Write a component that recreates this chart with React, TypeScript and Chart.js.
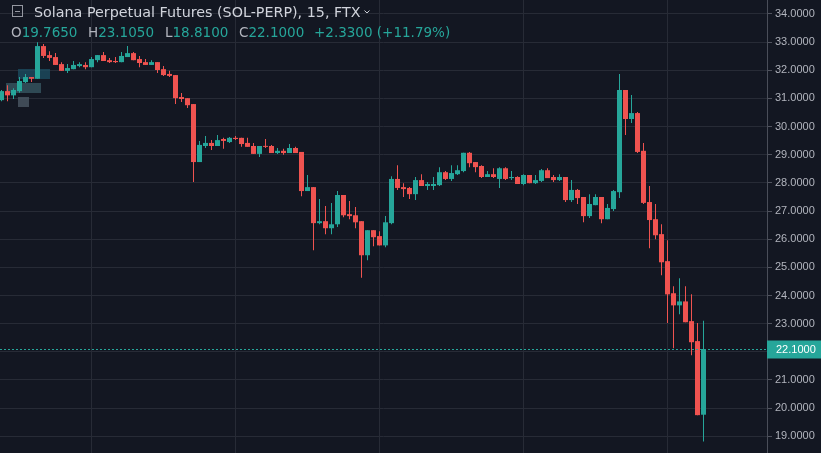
import React, { useEffect, useRef } from 'react';
import { Chart, registerables } from 'chart.js';

Chart.register(...registerables);

// OHLC values, one entry per 15-minute candle (oldest first)
const opens = [
  30.94, 31.26, 31.11, 31.26, 31.58, 31.76, 31.70, 32.86, 32.54, 32.47,
  32.22, 31.98, 32.04, 32.15, 32.19, 32.11, 32.36, 32.54, 32.36, 32.33,
  32.29, 32.47, 32.61, 32.40, 32.29, 32.19, 32.29, 32.04, 31.87, 31.83,
  31.05, 31.01, 30.80, 28.74, 29.31, 29.42, 29.31, 29.56, 29.45, 29.60,
  29.60, 29.42, 29.31, 29.03, 29.31, 29.31, 29.06, 29.14, 29.06, 29.24,
  29.10, 27.71, 27.85, 26.57, 26.64, 26.39, 26.53, 27.57, 26.89, 26.85,
  26.64, 25.43, 26.32, 26.11, 25.78, 26.57, 28.14, 27.85, 27.82, 27.60,
  28.10, 27.89, 27.89, 27.92, 28.38, 28.14, 28.31, 28.42, 29.07, 28.74,
  28.60, 28.21, 28.31, 28.14, 28.52, 28.17, 28.21, 27.96, 28.28, 27.99,
  28.07, 28.45, 28.21, 28.10, 28.21, 27.39, 27.75, 27.50, 26.82, 27.21,
  27.50, 26.71, 27.07, 27.67, 31.30, 30.27, 30.48, 29.14, 27.32, 26.71,
  26.18, 25.22, 24.08, 23.65, 23.79, 23.09, 22.38, 19.765,
];
const highs = [
  31.30, 31.47, 31.36, 31.76, 31.87, 31.76, 33.00, 32.93, 32.68, 32.61,
  32.29, 32.22, 32.33, 32.29, 32.29, 32.47, 32.54, 32.65, 32.44, 32.47,
  32.65, 32.86, 32.65, 32.51, 32.40, 32.36, 32.29, 32.15, 31.98, 31.83,
  31.19, 31.01, 30.80, 29.49, 29.67, 29.52, 29.70, 29.60, 29.63, 29.67,
  29.60, 29.60, 29.42, 29.31, 29.56, 29.35, 29.24, 29.21, 29.38, 29.28,
  29.10, 28.28, 27.85, 27.43, 27.18, 27.29, 27.71, 27.57, 27.36, 27.14,
  26.64, 26.32, 26.32, 26.28, 26.82, 28.24, 28.63, 27.99, 27.85, 28.21,
  28.31, 28.03, 28.21, 28.56, 28.42, 28.63, 28.63, 29.07, 29.10, 28.74,
  28.63, 28.42, 28.52, 28.56, 28.56, 28.42, 28.24, 28.31, 28.28, 28.28,
  28.49, 28.52, 28.28, 28.31, 28.21, 28.10, 27.78, 27.50, 27.60, 27.60,
  27.50, 27.25, 27.75, 31.87, 31.30, 31.12, 30.52, 29.42, 27.89, 27.25,
  26.53, 25.96, 24.33, 24.61, 24.33, 24.04, 23.02, 23.105,
];
const lows = [
  30.90, 30.90, 30.98, 31.20, 31.55, 31.58, 31.70, 32.44, 32.33, 32.19,
  31.98, 31.90, 32.04, 32.11, 32.04, 32.11, 32.29, 32.33, 32.26, 32.26,
  32.29, 32.47, 32.36, 32.11, 32.19, 32.19, 31.90, 31.80, 31.76, 30.80,
  30.87, 30.66, 28.03, 28.74, 29.24, 29.17, 29.31, 29.21, 29.42, 29.52,
  29.28, 29.28, 29.03, 28.92, 29.24, 29.06, 29.03, 29.00, 29.06, 29.06,
  27.53, 27.71, 25.61, 26.53, 26.18, 26.18, 26.43, 26.78, 26.71, 26.39,
  24.63, 25.25, 25.75, 25.78, 25.71, 26.53, 27.75, 27.50, 27.43, 27.39,
  27.89, 27.75, 27.75, 27.89, 28.10, 28.07, 28.28, 28.38, 28.56, 28.38,
  28.17, 28.21, 28.17, 27.82, 28.10, 28.10, 27.96, 27.92, 27.99, 27.96,
  28.03, 28.17, 28.03, 28.07, 27.32, 27.32, 27.25, 26.60, 26.75, 27.21,
  26.57, 26.71, 27.00, 27.46, 29.70, 30.13, 29.06, 27.25, 25.68, 26.00,
  24.72, 23.02, 22.13, 23.33, 23.05, 21.88, 19.75, 18.81,
];
const closes = [
  31.26, 31.11, 31.30, 31.62, 31.76, 31.70, 32.86, 32.51, 32.44, 32.19,
  31.98, 32.08, 32.19, 32.22, 32.11, 32.40, 32.54, 32.33, 32.29, 32.29,
  32.51, 32.61, 32.36, 32.26, 32.19, 32.29, 32.01, 31.83, 31.80, 31.01,
  30.98, 30.76, 28.74, 29.35, 29.42, 29.31, 29.52, 29.49, 29.60, 29.56,
  29.38, 29.28, 29.03, 29.31, 29.28, 29.06, 29.14, 29.06, 29.24, 29.06,
  27.71, 27.85, 26.57, 26.64, 26.39, 26.53, 27.57, 26.85, 26.82, 26.60,
  25.43, 26.32, 26.07, 25.78, 26.60, 28.14, 27.82, 27.78, 27.60, 28.10,
  27.89, 27.96, 27.96, 28.38, 28.14, 28.35, 28.45, 29.07, 28.70, 28.56,
  28.21, 28.31, 28.21, 28.52, 28.14, 28.21, 27.96, 28.28, 27.99, 28.10,
  28.45, 28.17, 28.10, 28.21, 27.39, 27.75, 27.46, 26.82, 27.25, 27.50,
  26.71, 27.11, 27.71, 31.30, 30.27, 30.48, 29.10, 27.29, 26.68, 26.14,
  25.18, 24.04, 23.65, 23.79, 23.05, 22.34, 19.75, 22.10,
];

const yTickValues = [19, 20, 21, 22, 23, 24, 25, 26, 27, 28, 29, 30, 31, 32, 33, 34];
const xGridIndices = [15, 39, 63, 87, 111];
const yMin = 18.405;
const yMax = 34.497;
const lastPrice = 22.1;
const titleText = 'Solana Perpetual Futures (SOL-PERP), 15, FTX';
const ohlcLetters = ['O', 'H', 'L', 'C'];
const ohlcValues = ['19.7650', '23.1050', '18.8100', '22.1000'];
const changeText = '+2.3300 (+11.79%)';

const UP = '#26a69a';
const DOWN = '#ef5350';
const BG = '#131722';
const GRID = '#272b36';

// translucent overlay boxes (index range, price range)
const overlayBoxes = [
  { i0: 2.75, i1: 8.08, p0: 32.05, p1: 31.69, color: 'rgba(30,80,100,0.75)' },
  { i0: 0.75, i1: 6.58, p0: 31.55, p1: 31.19, color: 'rgba(60,95,105,0.7)' },
  { i0: 2.75, i1: 4.58, p0: 31.05, p1: 30.69, color: 'rgba(75,88,100,0.8)' },
];

export default function App() {
  const ref = useRef<HTMLCanvasElement>(null);

  useEffect(() => {
    const idx = opens.map((_, i) => i);
    const colors = idx.map((i) => (closes[i] >= opens[i] ? UP : DOWN));
    const wicks = idx.map((i) => ({ x: i, y: [lows[i], highs[i]] }));
    const bodies = idx.map((i) => ({ x: i, y: [opens[i], closes[i]] }));

    const bgPlugin = {
      id: 'bg',
      beforeDraw(chart: any) {
        const c = chart.ctx;
        c.save();
        c.fillStyle = BG;
        c.fillRect(0, 0, chart.width, chart.height);
        c.restore();
      },
      beforeDatasetsDraw(chart: any) {
        const c = chart.ctx;
        const xs = chart.scales.x;
        const ys = chart.scales.y;
        c.save();
        overlayBoxes.forEach((b) => {
          const x0 = xs.getPixelForValue(b.i0);
          const x1 = xs.getPixelForValue(b.i1);
          const y0 = ys.getPixelForValue(b.p0);
          const y1 = ys.getPixelForValue(b.p1);
          c.fillStyle = b.color;
          c.fillRect(Math.round(x0), Math.round(y0), Math.round(x1 - x0), Math.round(y1 - y0));
        });
        c.restore();
      },
      afterDraw(chart: any) {
        const c = chart.ctx;
        const ys = chart.scales.y;
        const area = chart.chartArea;
        const py = Math.round(ys.getPixelForValue(lastPrice)) + 0.5;
        c.save();
        // last price dotted line
        c.strokeStyle = UP;
        c.lineWidth = 1;
        c.setLineDash([2, 2]);
        c.beginPath();
        c.moveTo(area.left, py);
        c.lineTo(area.right, py);
        c.stroke();
        c.setLineDash([]);
        // price label box
        c.fillStyle = UP;
        c.fillRect(area.right, py - 9, chart.width - area.right, 18);
        c.fillStyle = '#ffffff';
        c.font = '11px "Liberation Sans", Arial, sans-serif';
        c.textBaseline = 'middle';
        c.textAlign = 'left';
        c.fillText(lastPrice.toFixed(4), area.right + 9, py + 0.5);

        // legend icon
        c.strokeStyle = '#9598a1';
        c.lineWidth = 1;
        c.strokeRect(12.5, 5.5, 10, 11);
        c.beginPath();
        c.moveTo(15, 11.5);
        c.lineTo(20, 11.5);
        c.stroke();

        // title
        c.textBaseline = 'alphabetic';
        c.font = '14.3px "DejaVu Sans", "Liberation Sans", Arial, sans-serif';
        c.fillStyle = '#d1d4dc';
        c.fillText(titleText, 34, 17);
        const tw = c.measureText(titleText).width;
        // chevron
        c.strokeStyle = '#d1d4dc';
        c.beginPath();
        c.moveTo(34 + tw + 4, 10.5);
        c.lineTo(34 + tw + 6.5, 13);
        c.lineTo(34 + tw + 9, 10.5);
        c.stroke();

        // OHLC row
        c.font = '13.5px "DejaVu Sans", "Liberation Sans", Arial, sans-serif';
        const starts = [11, 88, 165, 239];
        ohlcLetters.forEach((l, k) => {
          c.fillStyle = '#b2b5be';
          c.fillText(l, starts[k], 36.5);
          const lw = c.measureText(l).width;
          c.fillStyle = UP;
          c.fillText(ohlcValues[k], starts[k] + lw, 36.5);
        });
        c.fillStyle = UP;
        c.fillText(changeText, 314, 36.5);
        c.restore();
      },
    };

    const chart = new Chart(ref.current as HTMLCanvasElement, {
      type: 'bar',
      data: {
        datasets: [
          {
            data: wicks as any,
            backgroundColor: colors,
            barThickness: 1,
            grouped: false,
            inflateAmount: 0,
            borderWidth: 0,
          } as any,
          {
            data: bodies as any,
            backgroundColor: colors,
            barThickness: 5,
            grouped: false,
            minBarLength: 1,
            inflateAmount: 0,
            borderWidth: 0,
          } as any,
        ],
      },
      options: {
        animation: false,
        responsive: false,
        maintainAspectRatio: false,
        layout: { padding: 0 },
        plugins: { legend: { display: false }, tooltip: { enabled: false }, title: { display: false } },
        scales: {
          x: {
            type: 'linear',
            offset: false,
            min: -0.25,
            max: -0.25 + 767 / 6,
            grid: { color: GRID, drawTicks: false, offset: false },
            border: { display: false },
            ticks: { display: false },
            afterBuildTicks: (s: any) => {
              s.ticks = xGridIndices.map((v) => ({ value: v }));
            },
            afterFit: (s: any) => {
              s.height = 0;
              s.paddingLeft = 0;
              s.paddingRight = 0;
            },
          },
          y: {
            type: 'linear',
            position: 'right',
            bounds: 'data',
            min: yMin,
            max: yMax,
            grid: { color: GRID, tickColor: '#50535e', tickLength: 5 },
            border: { display: true, color: '#4a4e59' },
            ticks: {
              color: '#b2b5be',
              padding: 3,
              includeBounds: false,
              font: { family: '"Liberation Sans", Arial, sans-serif', size: 11 },
              callback: (v: any) => Number(v).toFixed(4),
            },
            afterBuildTicks: (s: any) => {
              s.ticks = yTickValues.map((v) => ({ value: v }));
            },
            afterFit: (s: any) => {
              s.width = 54;
              s.paddingTop = 0;
              s.paddingBottom = 0;
            },
          },
        },
      } as any,
      plugins: [bgPlugin],
    });
    return () => chart.destroy();
  }, []);

  return (
    <div style={{ position: 'absolute', left: 0, top: 0, width: 821, height: 453, background: BG }}>
      <canvas ref={ref} width={821} height={453} style={{ display: 'block', width: 821, height: 453 }} />
    </div>
  );
}
